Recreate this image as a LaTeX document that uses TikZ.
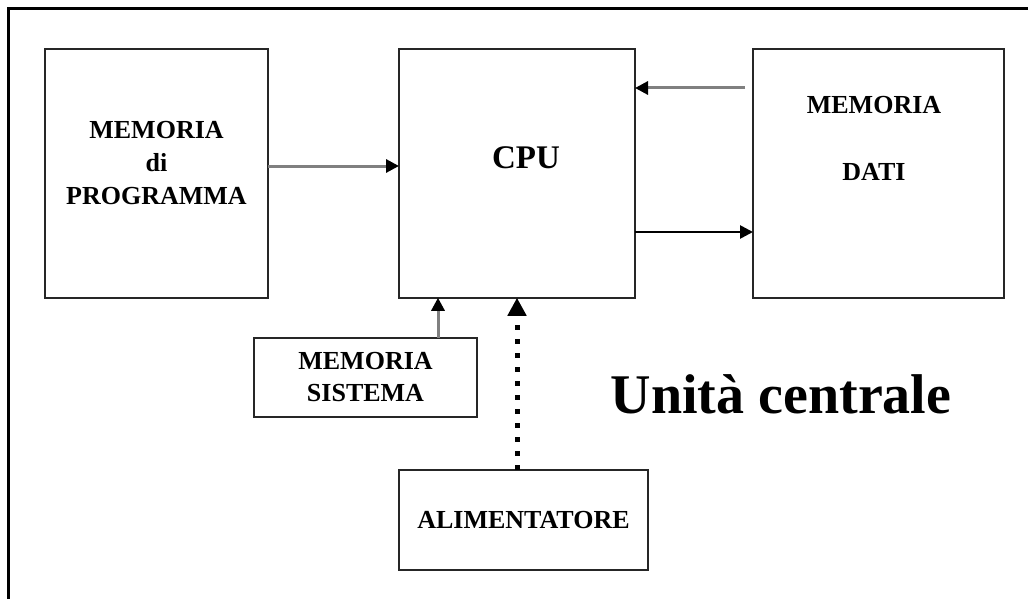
\documentclass[tikz,border=0pt]{standalone}
\usepackage{fontspec}
\setmainfont{Liberation Serif}
\usetikzlibrary{arrows.meta,positioning}

\begin{document}
\begin{tikzpicture}[
  x=1pt, y=-1pt,
  font=\bfseries,
  box/.style={draw=black!85, line width=2.2pt, rectangle, inner sep=0pt, outer sep=0pt, align=center},
  bigbox/.style={box, minimum height=248.5pt},
  smallbox/.style={box, font=\bfseries\fontsize{26}{32}\selectfont},
  txt/.style={align=center, inner sep=0pt, font=\bfseries\fontsize{26}{33}\selectfont},
  grayline/.style={draw=black!50, line width=3pt, -{Triangle[length=13pt,width=13pt,color=black]}},
  blackline/.style={draw=black, line width=2.6pt, -{Triangle[length=13pt,width=13pt]}},
  dotline/.style={draw=black, line width=5pt, dash pattern=on 5pt off 9pt, -{Triangle[length=18pt,width=18pt]}},
  frame/.style={draw=black, line width=3pt}
]
\useasboundingbox (0,0) rectangle (1028,599);
\clip (0,0) rectangle (1028,599);

% cornice esterna
\draw[frame] (8,9) rectangle (1040,612);

% blocchi principali
\node[bigbox, minimum width=223pt] (prog) at (156.5,173.5) {};
\node[bigbox, minimum width=236pt, right=131pt of prog] (cpu) {};
\node[bigbox, minimum width=251pt, right=118pt of cpu] (dati) {};

\node[smallbox, minimum width=223pt, minimum height=79pt, anchor=north west]
  (sistema) at ([xshift=-145pt, yshift=-40pt]cpu.south west) {MEMORIA\\SISTEMA};
\node[smallbox, minimum width=249pt, minimum height=100pt, anchor=north west]
  (alim) at ([yshift=-172pt]cpu.south west) {ALIMENTATORE};

% testi dei blocchi
\node[txt] (progtxt) at ([yshift=10.5pt]prog.center) {MEMORIA\\di\\PROGRAMMA};
\node[txt, font=\bfseries\fontsize{33}{40}\selectfont] (cputxt) at ([xshift=9pt, yshift=15.5pt]cpu.center) {CPU};
\node[txt, font=\bfseries\fontsize{26}{67}\selectfont] (datitxt) at ([xshift=-4.5pt, yshift=35pt]dati.center) {MEMORIA\\DATI};
\node[txt, font=\bfseries\fontsize{56}{60}\selectfont, anchor=base] (titolo) at (781,413) {Unità centrale};

% collegamenti
\draw[grayline] ([yshift=7.5pt]prog.east) -- ([yshift=7.5pt]cpu.west);
\draw[grayline] ([xshift=-8pt, yshift=85.5pt]dati.west) -- ([yshift=85.5pt]cpu.east);
\draw[blackline] ([yshift=-58.5pt]cpu.east) -- ([yshift=-58.5pt]dati.west);
\draw[grayline] ([xshift=72.5pt]sistema.north) -- ([xshift=72.5pt]sistema.north |- cpu.south);
\draw[dotline] (cpu.south |- alim.north) -- (cpu.south);
\end{tikzpicture}
\end{document}
